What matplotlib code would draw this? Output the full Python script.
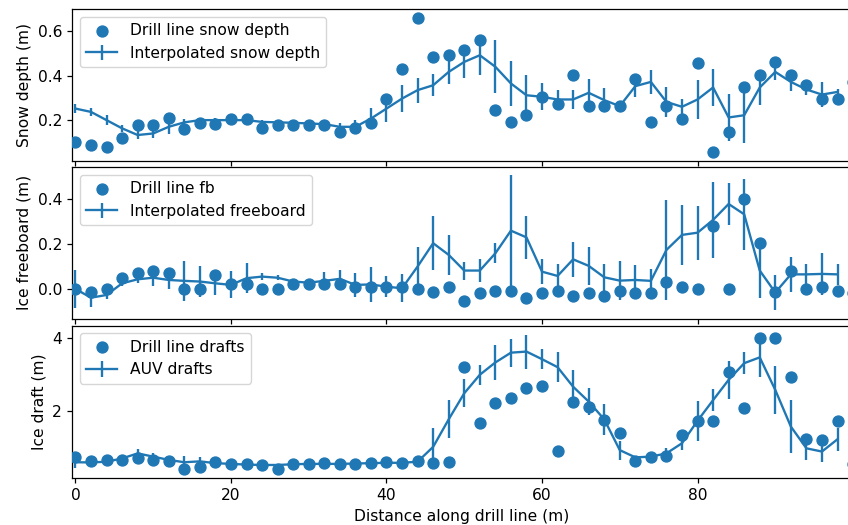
import matplotlib

matplotlib.use("Agg")
import matplotlib.pyplot as plt
import numpy as np

# positions along the drill line (m)
drill_x = np.arange(0, 101, 2)
interp_x = np.arange(0, 99, 2)

snow_drill = [
    0.10, 0.088, 0.08, 0.12, 0.18, 0.18, 0.21, 0.158, 0.188, 0.182,
    0.203, 0.203, 0.165, 0.176, 0.176, 0.176, 0.18, 0.146, 0.165, 0.188,
    0.293, 0.432, 0.66, 0.485, 0.495, 0.515, 0.56, 0.245, 0.193, 0.222,
    0.305, 0.272, 0.402, 0.263, 0.263, 0.263, 0.383, 0.193, 0.263, 0.203,
    0.455, 0.058, 0.147, 0.347, 0.402, 0.462, 0.402, 0.36, 0.294, 0.294,
    0.372,
]
snow_interp = [
    0.252, 0.237, 0.20, 0.163, 0.133, 0.14, 0.17, 0.19, 0.20, 0.20,
    0.20, 0.20, 0.192, 0.19, 0.188, 0.185, 0.182, 0.17, 0.17, 0.207,
    0.252, 0.297, 0.335, 0.357, 0.417, 0.462, 0.492, 0.44, 0.365, 0.312,
    0.305, 0.293, 0.293, 0.323, 0.29, 0.263, 0.353, 0.372, 0.282, 0.26,
    0.293, 0.347, 0.212, 0.222, 0.347, 0.417, 0.372, 0.338, 0.315, 0.327,
]
snow_err = [
    0.02, 0.017, 0.022, 0.017, 0.018, 0.022, 0.032, 0.017, 0.01, 0.01,
    0.01, 0.01, 0.01, 0.01, 0.01, 0.01, 0.01, 0.015, 0.03, 0.049,
    0.06, 0.06, 0.056, 0.049, 0.055, 0.073, 0.09, 0.12, 0.10, 0.09,
    0.06, 0.043, 0.043, 0.064, 0.055, 0.024, 0.049, 0.054, 0.066, 0.037,
    0.088, 0.084, 0.107, 0.124, 0.079, 0.036, 0.04, 0.026, 0.057, 0.015,
]

fb_drill = [
    0.0, -0.012, 0.0, 0.05, 0.07, 0.08, 0.07, 0.0, 0.0, 0.062,
    0.02, 0.02, 0.0, 0.0, 0.02, 0.02, 0.02, 0.02, 0.01, 0.01,
    0.01, 0.01, 0.0, -0.012, 0.01, -0.052, -0.019, -0.009, -0.009, -0.039,
    -0.019, -0.009, -0.03, -0.019, -0.03, -0.009, -0.019, -0.019, 0.03, 0.01,
    0.0, 0.281, 0.0, 0.40, 0.204, -0.015, 0.082, 0.0, 0.01, -0.009,
    -0.02,
]
fb_interp = [
    0.0, -0.039, -0.027, 0.025, 0.043, 0.05, 0.04, 0.036, 0.033, 0.025,
    0.018, 0.048, 0.055, 0.05, 0.033, 0.028, 0.036, 0.045, 0.018, 0.02,
    0.01, 0.003, 0.1, 0.204, 0.152, 0.082, 0.082, 0.159, 0.26, 0.23,
    0.077, 0.058, 0.132, 0.103, 0.052, 0.037, 0.04, 0.036, 0.174, 0.241,
    0.251, 0.308, 0.379, 0.333, 0.082, -0.016, 0.065, 0.065, 0.067, 0.065,
]
fb_err = [
    0.085, 0.042, 0.02, 0.01, 0.015, 0.035, 0.04, 0.09, 0.07, 0.05,
    0.06, 0.067, 0.015, 0.01, 0.01, 0.01, 0.04, 0.04, 0.053, 0.08,
    0.047, 0.063, 0.088, 0.12, 0.088, 0.04, 0.053, 0.045, 0.248, 0.097,
    0.055, 0.054, 0.078, 0.086, 0.061, 0.088, 0.067, 0.052, 0.223, 0.135,
    0.12, 0.17, 0.093, 0.158, 0.123, 0.078, 0.077, 0.047, 0.092, 0.047,
]

draft_drill = [
    0.728, 0.608, 0.636, 0.636, 0.70, 0.636, 0.608, 0.387, 0.45, 0.59,
    0.516, 0.516, 0.49, 0.387, 0.516, 0.516, 0.56, 0.516, 0.516, 0.544,
    0.59, 0.56, 0.617, 0.56, 0.59, 3.2, 1.65, 2.22, 2.34, 2.62,
    2.69, 0.89, 2.25, 2.09, 1.74, 1.37, 0.62, 0.71, 0.75, 1.33,
    1.70, 1.70, 3.08, 2.06, 4.0, 4.0, 2.94, 1.23, 1.19, 1.70,
    0.53,
]
draft_auv = [
    0.575, 0.57, 0.59, 0.68, 0.82, 0.73, 0.64, 0.575, 0.6, 0.55,
    0.53, 0.51, 0.5, 0.5, 0.52, 0.53, 0.53, 0.53, 0.54, 0.55,
    0.56, 0.56, 0.59, 1.0, 1.76, 2.48, 2.99, 3.33, 3.60, 3.63,
    3.42, 3.2, 2.66, 2.25, 1.76, 0.91, 0.71, 0.73, 0.82, 1.10,
    1.72, 2.29, 2.85, 3.31, 3.47, 2.57, 1.56, 0.96, 0.87, 1.21,
]
draft_err = [
    0.17, 0.05, 0.05, 0.1, 0.12, 0.1, 0.05, 0.16, 0.12, 0.05,
    0.03, 0.03, 0.03, 0.03, 0.03, 0.03, 0.03, 0.03, 0.03, 0.03,
    0.03, 0.03, 0.05, 0.53, 0.52, 0.38, 0.28, 0.49, 0.39, 0.47,
    0.28, 0.41, 0.47, 0.37, 0.42, 0.26, 0.05, 0.05, 0.15, 0.18,
    0.55, 0.3, 0.52, 0.3, 0.55, 0.66, 0.73, 0.32, 0.3, 0.32,
]

COLOR = "tab:blue"
SCALE = 1.12

plt.rcParams.update({
    "font.size": 10 * SCALE,
    "lines.linewidth": 1.5 * SCALE,
    "axes.linewidth": 0.8 * SCALE,
    "xtick.major.size": 3.5 * SCALE,
    "ytick.major.size": 3.5 * SCALE,
    "xtick.major.width": 0.8 * SCALE,
    "ytick.major.width": 0.8 * SCALE,
})


def draw_panel(
    axis: plt.Axes,
    drill: list,
    interp: list,
    err: list,
    labels: tuple[str, str],
    ylabel: str,
) -> None:
    axis.scatter(drill_x, drill, s=62, color=COLOR, label=labels[0], zorder=3)
    axis.errorbar(interp_x, interp, yerr=err, color=COLOR, label=labels[1])
    axis.set_ylabel(ylabel)
    axis.legend(loc="upper left")
    axis.spines["right"].set_visible(False)


fig = plt.figure(figsize=(8.48, 5.25), dpi=100)
left, width = 0.0853, 0.917
ax_snow = fig.add_axes([left, 0.6933, width, 0.2895])
ax_fb = fig.add_axes([left, 0.3933, width, 0.2886], sharex=ax_snow)
ax_draft = fig.add_axes([left, 0.0895, width, 0.2905], sharex=ax_snow)

draw_panel(
    ax_snow, snow_drill, snow_interp, snow_err,
    ("Drill line snow depth", "Interpolated snow depth"), "Snow depth (m)",
)
draw_panel(
    ax_fb, fb_drill, fb_interp, fb_err,
    ("Drill line fb", "Interpolated freeboard"), "Ice freeboard (m)",
)
draw_panel(
    ax_draft, draft_drill, draft_auv, draft_err,
    ("Drill line drafts", "AUV drafts"), "Ice draft (m)",
)

ax_snow.set_xlim(-0.4, 99.6)
ax_snow.set_ylim(0.016, 0.70)
ax_snow.set_yticks([0.2, 0.4, 0.6])
ax_fb.set_ylim(-0.132, 0.544)
ax_fb.set_yticks([0.0, 0.2, 0.4])
ax_draft.set_ylim(0.14, 4.35)
ax_draft.set_yticks([2, 4])

ax_snow.tick_params(labelbottom=False)
ax_fb.tick_params(labelbottom=False)
ax_draft.set_xticks([0, 20, 40, 60, 80])
ax_draft.set_xlabel("Distance along drill line (m)")

fig.savefig("out.png", dpi=100)
